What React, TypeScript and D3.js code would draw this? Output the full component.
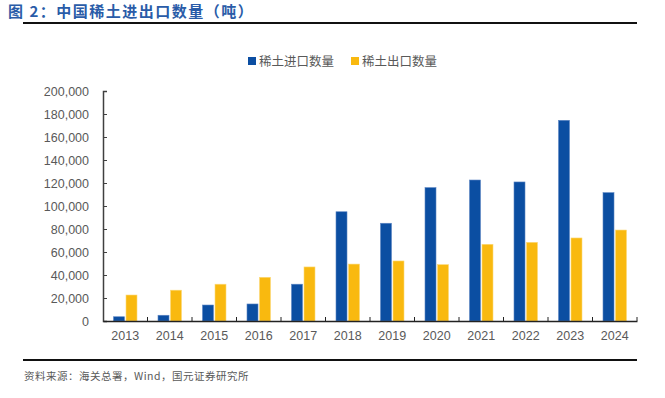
import React, { useRef, useEffect } from 'react';
import { select, scaleBand, scaleLinear, axisLeft, axisBottom, format } from 'd3';

const years = ['2013', '2014', '2015', '2016', '2017', '2018', '2019', '2020', '2021', '2022', '2023', '2024'];
const importQty = [3700, 5000, 13900, 14800, 32000, 95000, 85000, 116000, 122600, 120900, 174500, 111600];
const exportQty = [22600, 26800, 32000, 38000, 47000, 49500, 52200, 49000, 66700, 68400, 72200, 79100];
const yTicks = [0, 20000, 40000, 60000, 80000, 100000, 120000, 140000, 160000, 180000, 200000];
const seriesNames = ['稀土进口数量', '稀土出口数量'];
const colors = ['#0b4ea2', '#f9b90f'];

const W = 665;
const H = 398;
const left = 103;
const right = 637;
const top = 91;
const bottom = 321;

const App = () => {
  const svgRef = useRef<SVGSVGElement>(null);

  useEffect(() => {
    const svg = select(svgRef.current);
    svg.selectAll('*').remove();
    const latin = '"Liberation Sans", Arial, sans-serif';
    const cjk = '"Noto Sans CJK SC", sans-serif';

    const x = scaleBand().domain(years).range([left, right]);
    const y = scaleLinear().domain([0, 200000]).range([bottom, top]);
    const barW = 11;
    const gap = 1.5;

    // title
    svg.append('text')
      .attr('x', 8).attr('y', 17)
      .attr('fill', '#2a5ca8')
      .style('font-family', cjk)
      .style('font-weight', 'bold')
      .style('font-size', '15px')
      .style('letter-spacing', '1.5px')
      .text('图 2：中国稀土进出口数量（吨）');
    svg.append('line')
      .attr('x1', 23).attr('x2', right).attr('y1', 23).attr('y2', 23)
      .attr('stroke', '#111').attr('stroke-width', 2);

    // legend
    const legendX = [248, 351];
    seriesNames.forEach((name, i) => {
      svg.append('rect')
        .attr('x', legendX[i]).attr('y', 57)
        .attr('width', 8).attr('height', 8)
        .attr('fill', colors[i]);
      svg.append('text')
        .attr('x', legendX[i] + 11).attr('y', 65.5)
        .attr('fill', '#595959')
        .style('font-family', cjk)
        .style('font-size', '12.5px')
        .text(name);
    });

    // bars
    const groups = [importQty, exportQty];
    groups.forEach((vals, si) => {
      svg.append('g').selectAll('rect')
        .data(vals)
        .join('rect')
        .attr('x', (d, i) => x(years[i])! + x.bandwidth() / 2 + (si === 0 ? -barW - gap / 2 : gap / 2))
        .attr('y', d => y(d))
        .attr('width', barW)
        .attr('height', d => y(0) - y(d))
        .attr('fill', colors[si])
        .attr('stroke', si === 0 ? '#5d86c4' : '#fcd97a')
        .attr('stroke-width', 0.6);
    });

    // y axis
    const yAxis = svg.append('g')
      .attr('transform', `translate(${left},0)`)
      .call(axisLeft(y).tickValues(yTicks).tickSize(-4).tickPadding(14).tickFormat(format(',')));
    yAxis.select('.domain').attr('stroke', '#404040').attr('stroke-width', 1.5);
    yAxis.selectAll('.tick line').attr('stroke', '#404040');
    yAxis.selectAll('text')
      .attr('fill', '#595959')
      .style('font-family', latin)
      .style('font-size', '12.5px');

    // x axis
    const xAxis = svg.append('g')
      .attr('transform', `translate(0,${bottom})`)
      .call(axisBottom(x).tickSize(0).tickPadding(10));
    xAxis.select('.domain').attr('stroke', '#222').attr('stroke-width', 1.5);
    xAxis.selectAll('text')
      .attr('fill', '#595959')
      .style('font-family', latin)
      .style('font-size', '12.5px');
    xAxis.selectAll('.boundary')
      .data(years.slice(1).concat(['end']))
      .join('line')
      .attr('class', 'boundary')
      .attr('x1', (d, i) => left + x.step() * (i + 1))
      .attr('x2', (d, i) => left + x.step() * (i + 1))
      .attr('y1', 0).attr('y2', -4)
      .attr('stroke', '#222');

    // source
    svg.append('line')
      .attr('x1', 23).attr('x2', right).attr('y1', 360).attr('y2', 360)
      .attr('stroke', '#111').attr('stroke-width', 2);
    svg.append('text')
      .attr('x', 24).attr('y', 380)
      .attr('fill', '#595959')
      .style('font-family', cjk)
      .style('font-size', '10.5px')
      .style('letter-spacing', '0.5px')
      .text('资料来源：海关总署，Wind，国元证券研究所');
  }, []);

  return (
    <svg ref={svgRef} width={W} height={H}
      style={{ position: 'absolute', left: 0, top: 0, background: '#fff' }} />
  );
};

export default App;
